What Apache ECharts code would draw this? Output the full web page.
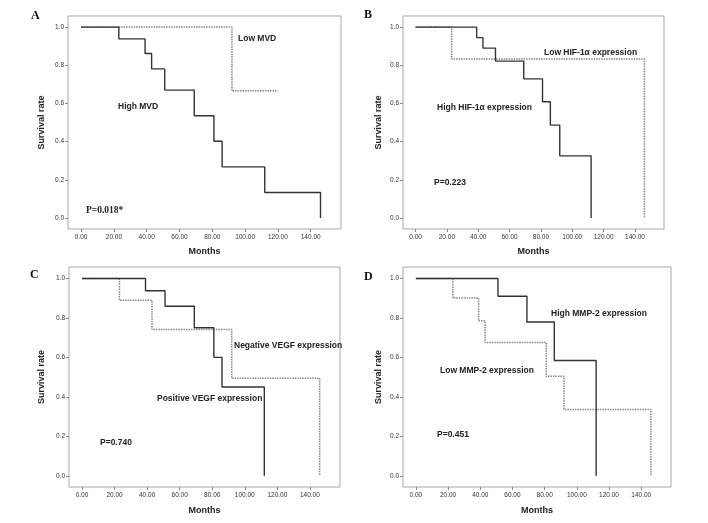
<!DOCTYPE html>
<html><head><meta charset="utf-8">
<script src="https://cdn.jsdelivr.net/npm/echarts@6/dist/echarts.min.js"></script>
<style>html,body{margin:0;padding:0;background:#fff}#c{width:708px;height:523px}</style>
</head><body><div id="c"></div>
<script>
// ---- data (months, survival rate) ----
const xTicks = [0,20,40,60,80,100,120,140];
const yTicks = [0,0.2,0.4,0.6,0.8,1.0];

// A: MVD
const highMVD_t = [0,23,39,43,51,69,81,86,112,146];
const highMVD_s = [1,0.938,0.862,0.781,0.670,0.536,0.402,0.268,0.134,0];
const lowMVD_t = [0,92,120];
const lowMVD_s = [1,0.667,0.667];
// B: HIF-1α
const highHIF_t = [0,39,43,51,69,81,86,92,112];
const highHIF_s = [1,0.945,0.890,0.822,0.729,0.609,0.487,0.326,0];
const lowHIF_t = [0,23,146];
const lowHIF_s = [1,0.833,0];
// C: VEGF
const posVEGF_t = [0,39,51,69,81,86,112];
const posVEGF_s = [1,0.938,0.859,0.750,0.600,0.450,0];
const negVEGF_t = [0,23,43,92,146];
const negVEGF_s = [1,0.889,0.741,0.494,0];
// D: MMP-2
const highMMP_t = [0,51,69,86,112];
const highMMP_s = [1,0.910,0.779,0.584,0];
const lowMMP_t = [0,23,39,43,81,92,146];
const lowMMP_s = [1,0.901,0.785,0.675,0.504,0.336,0];

const panels = [
  {letter:'A', grid:{left:68,top:16,width:273,height:213},
   solid:[highMVD_t,highMVD_s], dotted:[lowMVD_t,lowMVD_s],
   labels:[['Low MVD',238,39],['High MVD',118,107]], p:['P=0.018*',86,211,true], L:[31,16], nameGapY:22, nameGapX:18},
  {letter:'B', grid:{left:403,top:16,width:261,height:213},
   solid:[highHIF_t,highHIF_s], dotted:[lowHIF_t,lowHIF_s],
   labels:[['Low HIF-1α expression',544,53],['High HIF-1α expression',437,108]], p:['P=0.223',434,183,false], L:[364,15], nameGapY:20, nameGapX:18},
  {letter:'C', grid:{left:69,top:267,width:271,height:220},
   solid:[posVEGF_t,posVEGF_s], dotted:[negVEGF_t,negVEGF_s],
   labels:[['Negative VEGF expression',234,346],['Positive VEGF expression',157,399]], p:['P=0.740',100,443,false], L:[30,275], nameGapY:23, nameGapX:19},
  {letter:'D', grid:{left:403,top:267,width:268,height:220},
   solid:[highMMP_t,highMMP_s], dotted:[lowMMP_t,lowMMP_s],
   labels:[['High MMP-2 expression',551,314],['Low MMP-2 expression',440,371]], p:['P=0.451',437,435,false], L:[364,277], nameGapY:20, nameGapX:19}
];

const zip = (t,s) => t.map((v,i)=>[v,s[i]]);
const grids=[], xAxes=[], yAxes=[], series=[], graphics=[];
const sans = 'Liberation Sans, Arial, sans-serif';
const serif = 'Liberation Serif, Times New Roman, serif';
panels.forEach((p,i)=>{
  grids.push(Object.assign({show:true,borderColor:'#a8a8a8',borderWidth:1,backgroundColor:'#fff'},p.grid));
  xAxes.push({type:'value',gridIndex:i,min:-8,max:158.5,position:'bottom',
    name:'Months',nameLocation:'middle',nameGap:p.nameGapX,
    nameTextStyle:{fontFamily:sans,fontWeight:'bold',fontSize:9,color:'#222'},
    axisLine:{show:false,onZero:false},splitLine:{show:false},
    axisTick:{show:true,length:3,lineStyle:{color:'#888'},customValues:xTicks},
    axisLabel:{fontFamily:sans,fontSize:6.5,color:'#333',margin:5,customValues:xTicks,
      formatter:v=>v.toFixed(2)}});
  yAxes.push({type:'value',gridIndex:i,min:-0.057,max:1.058,position:'left',
    name:'Survival rate',nameLocation:'middle',nameGap:p.nameGapY,nameRotate:90,
    nameTextStyle:{fontFamily:sans,fontWeight:'bold',fontSize:9,color:'#222'},
    axisLine:{show:false,onZero:false},splitLine:{show:false},
    axisTick:{show:true,length:3,lineStyle:{color:'#888'},customValues:yTicks},
    axisLabel:{fontFamily:sans,fontSize:6.5,color:'#333',margin:4,customValues:yTicks,
      formatter:v=>v.toFixed(1)}});
  series.push({type:'line',xAxisIndex:i,yAxisIndex:i,step:'end',symbol:'none',
    data:zip(p.dotted[0],p.dotted[1]),lineStyle:{color:'#888',width:1.5,type:[1.5,1]},z:2});
  series.push({type:'line',xAxisIndex:i,yAxisIndex:i,step:'end',symbol:'none',
    data:zip(p.solid[0],p.solid[1]),lineStyle:{color:'#333',width:1.4},z:3});
  p.labels.forEach(l=>graphics.push({type:'text',x:l[1],y:l[2],style:{text:l[0],font:'bold 8.5px '+sans,fill:'#222',verticalAlign:'middle'}}));
  graphics.push({type:'text',x:p.p[1],y:p.p[2],style:{text:p.p[0],font:(p.p[3]?'bold 9.5px '+serif:'bold 8.5px '+sans),fill:'#222',verticalAlign:'middle'}});
  graphics.push({type:'text',x:p.L[0],y:p.L[1],style:{text:p.letter,font:'bold 12px '+serif,fill:'#111',verticalAlign:'middle'}});
});

const chart = echarts.init(document.getElementById('c'),null,{renderer:'canvas'});
chart.setOption({backgroundColor:'#fff',animation:false,grid:grids,xAxis:xAxes,yAxis:yAxes,series:series,graphic:graphics});
</script></body></html>
